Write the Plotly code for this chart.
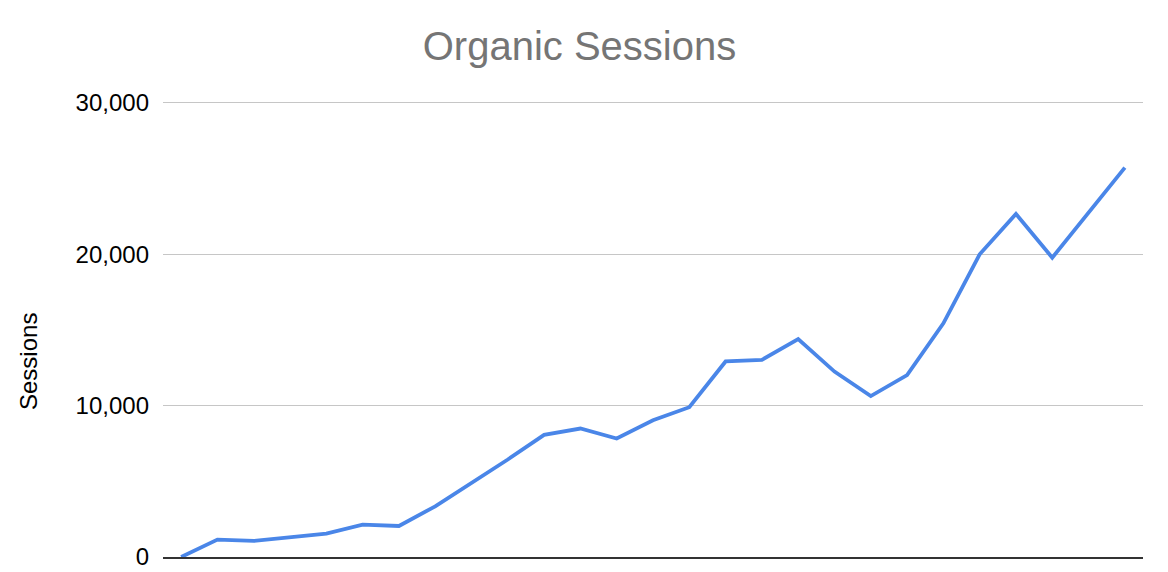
import plotly.graph_objects as go

# Data (x-axis labels are not shown in the reference)
periods = [f"P{i}" for i in range(1, 28)]
sessions = [0, 1150, 1060, 1280, 1550, 2140, 2050, 3350, 4890, 6440, 8070, 8490,
            7830, 9040, 9900, 12920, 13030, 14400, 12250, 10630, 12020, 15440,
            20000, 22670, 19780, 22750, 25730]
y_ticks = [0, 10000, 20000, 30000]
y_tick_labels = ["0", "10,000", "20,000", "30,000"]

W, H = 1168, 572
L, R, T, B = 163, 25, 98, 15
FONT = "Arial, Liberation Sans, Helvetica, sans-serif"

fig = go.Figure()
fig.add_trace(go.Scatter(
    x=periods, y=sessions, mode="lines",
    line=dict(color="#4a86e8", width=3.8),
    cliponaxis=False, hoverinfo="x+y", showlegend=False,
))

fig.update_layout(
    width=W, height=H,
    margin=dict(l=L, r=R, t=T, b=B, pad=0, autoexpand=False),
    paper_bgcolor="white", plot_bgcolor="white",
    font=dict(family=FONT, color="#000000", size=24),
    title=dict(
        text="Organic Sessions",
        font=dict(family=FONT, size=40, color="#757575"),
        x=579.5 / W, xanchor="center", xref="container",
        y=1 - 46 / H, yanchor="middle", yref="container",
    ),
    xaxis=dict(
        type="category", range=[-0.5, len(periods) - 0.5],
        showticklabels=False, showgrid=False, zeroline=False,
        showline=True, linecolor="#333333", linewidth=2, ticks="",
        automargin=False,
    ),
    yaxis=dict(
        range=[0, 30330], tickvals=y_ticks, ticktext=y_tick_labels,
        showgrid=True, gridcolor="#c6c6c6", gridwidth=1.3,
        zeroline=False, showline=False, ticks="",
        ticklabelstandoff=13, automargin=False,
        tickfont=dict(family=FONT, size=24, color="#000000"),
    ),
    annotations=[dict(
        text="Sessions", textangle=-90,
        xref="paper", yref="paper",
        x=(28 - L) / (W - L - R), y=(H - B - 362) / (H - T - B),
        xanchor="center", yanchor="middle", showarrow=False,
        font=dict(family=FONT, size=24, color="#000000"),
    )],
)

fig.write_html(
    "out.html",
    config={"displayModeBar": False},
    post_script="document.body.style.margin='0';document.body.style.overflow='hidden';",
)
